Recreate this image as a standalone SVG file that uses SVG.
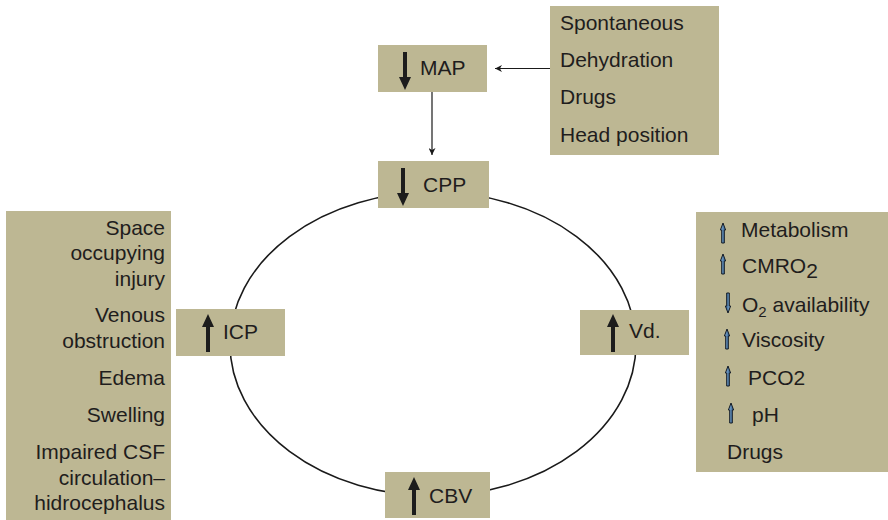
<svg xmlns="http://www.w3.org/2000/svg" width="888" height="520" viewBox="0 0 888 520">
  <defs>
    <style>
      .box { fill: #bdb793; }
      .lbl { font-family: "Liberation Sans", Arial, sans-serif; font-size: 21px; fill: #1f1d1d; }
      .end { text-anchor: end; }
      .big { fill: #1c1c1c; }
      .wire { fill: none; stroke: #1a1a1a; stroke-width: 1.2; }
      .ring { fill: none; stroke: #1a1a1a; stroke-width: 1.6; }
      .sm { fill: url(#steel); stroke: #121a24; stroke-width: 1; }
    </style>
    <linearGradient id="steel" x1="0" y1="0" x2="1" y2="0">
      <stop offset="0" stop-color="#8cb3d8"/>
      <stop offset="1" stop-color="#2b5c8e"/>
    </linearGradient>
    <marker id="tip" viewBox="0 0 10 10" refX="10" refY="5" markerWidth="7" markerHeight="7" markerUnits="userSpaceOnUse" orient="auto">
      <path d="M0,0 L10,5 L0,10 L3,5 Z" fill="#1a1a1a"/>
    </marker>
    <!-- big thick arrow pointing up, tip at (0,0), length 38 -->
    <path id="bigUp" d="M0,0 L6,13 H2 V38 H-2 V13 H-6 Z"/>
    <!-- small steel arrow pointing up, tip at (0,0), length 20 -->
    <path id="smUp" d="M0,0 L2.6,7 H1.3 V20 H-1.3 V7 H-2.6 Z"/>
  </defs>

  <rect width="888" height="520" fill="#ffffff"/>

  <!-- central loop -->
  <g id="loop">
    <ellipse class="ring" cx="433" cy="344" rx="203" ry="152"/>
  </g>

  <!-- connectors -->
  <g id="connectors">
    <line class="wire" x1="557" y1="68.5" x2="495" y2="68.5" marker-end="url(#tip)"/>
    <line class="wire" x1="432" y1="92" x2="432" y2="155" marker-end="url(#tip)"/>
  </g>

  <!-- causes of falling MAP -->
  <g id="map-causes">
    <rect class="box" x="550" y="6" width="169" height="149"/>
    <text class="lbl" x="560" y="30">Spontaneous</text>
    <text class="lbl" x="560" y="67">Dehydration</text>
    <text class="lbl" x="560" y="104">Drugs</text>
    <text class="lbl" x="560" y="142">Head position</text>
  </g>

  <g id="map">
    <rect class="box" x="378" y="45" width="109" height="47"/>
    <use href="#bigUp" class="big" transform="translate(405,90) rotate(180)"/>
    <text class="lbl" x="420" y="75">MAP</text>
  </g>

  <g id="cpp">
    <rect class="box" x="378" y="161" width="111" height="47"/>
    <use href="#bigUp" class="big" transform="translate(403,206) rotate(180)"/>
    <text class="lbl" x="423" y="192">CPP</text>
  </g>

  <g id="icp">
    <rect class="box" x="176" y="309" width="109" height="47"/>
    <use href="#bigUp" class="big" x="208" y="314"/>
    <text class="lbl" x="223" y="339">ICP</text>
  </g>

  <g id="vd">
    <rect class="box" x="580" y="310" width="109" height="45"/>
    <use href="#bigUp" class="big" x="613" y="314"/>
    <text class="lbl" x="629" y="338">Vd.</text>
  </g>

  <g id="cbv">
    <rect class="box" x="385" y="472" width="105" height="46"/>
    <use href="#bigUp" class="big" x="414" y="477"/>
    <text class="lbl" x="429" y="503">CBV</text>
  </g>

  <!-- causes of rising ICP -->
  <g id="icp-causes">
    <rect class="box" x="6" y="211" width="165" height="309"/>
    <text class="lbl end" x="165" y="235">Space</text>
    <text class="lbl end" x="165" y="260">occupying</text>
    <text class="lbl end" x="165" y="286">injury</text>
    <text class="lbl end" x="165" y="322">Venous</text>
    <text class="lbl end" x="165" y="348">obstruction</text>
    <text class="lbl end" x="165" y="385">Edema</text>
    <text class="lbl end" x="165" y="422">Swelling</text>
    <text class="lbl end" x="165" y="459">Impaired CSF</text>
    <text class="lbl end" x="165" y="485">circulation–</text>
    <text class="lbl end" x="165" y="510">hidrocephalus</text>
  </g>

  <!-- causes of rising Vd -->
  <g id="vd-causes">
    <rect class="box" x="696" y="212" width="192" height="260"/>
    <use href="#smUp" class="sm" x="723" y="223"/>
    <text class="lbl" x="741" y="237">Metabolism</text>
    <use href="#smUp" class="sm" x="723" y="254"/>
    <text class="lbl" x="742" y="273">CMRO<tspan dy="5">2</tspan></text>
    <use href="#smUp" class="sm" transform="translate(728,313) rotate(180)"/>
    <text class="lbl" x="742" y="312">O<tspan dy="5" font-size="15">2</tspan><tspan dy="-5"> availability</tspan></text>
    <use href="#smUp" class="sm" x="727" y="329"/>
    <text class="lbl" x="742" y="347">Viscosity</text>
    <use href="#smUp" class="sm" x="728" y="366"/>
    <text class="lbl" x="748" y="385">PCO2</text>
    <use href="#smUp" class="sm" x="731" y="403"/>
    <text class="lbl" x="752" y="422">pH</text>
    <text class="lbl" x="727" y="459">Drugs</text>
  </g>
</svg>
